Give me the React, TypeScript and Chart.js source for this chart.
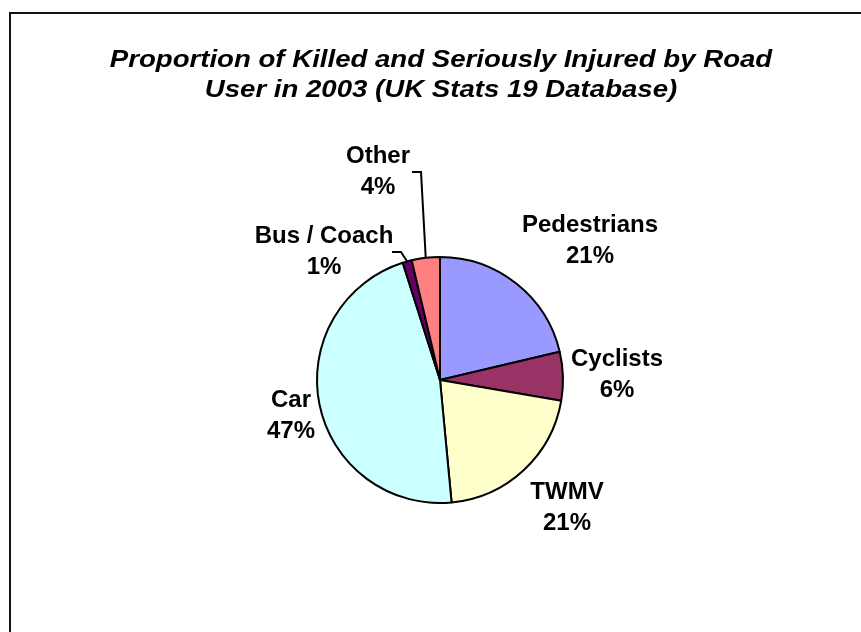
import React, { useEffect, useRef } from "react";
import { Chart, registerables } from "chart.js";

Chart.register(...registerables);

const categories = ["Pedestrians", "Cyclists", "TWMV", "Car", "Bus / Coach", "Other"];
const shares = [21.3, 6.4, 20.8, 46.6, 1.2, 3.7];
const sliceColors = ["#9999FF", "#993366", "#FFFFCC", "#CCFFFF", "#660066", "#FF8080"];
const titleLines = [
  "Proportion of Killed and Seriously Injured by Road",
  "User in 2003 (UK Stats 19 Database)",
];

// label anchors: [centre x, first baseline y] in canvas pixels
const labelAnchors: [number, number][] = [
  [590, 232],
  [617, 366],
  [567, 499],
  [291, 407],
  [324, 243],
  [378, 163],
];
// leader lines: start point (null = none)
const leaderStarts: ([number, number] | null)[] = [null, null, null, null, [392, 252], [412, 172]];

const FONT = '"Liberation Sans", Arial, Helvetica, sans-serif';

const decorPlugin = {
  id: "decor",
  beforeDraw(chart: any) {
    const ctx = chart.ctx;
    ctx.save();
    ctx.fillStyle = "#ffffff";
    ctx.fillRect(0, 0, chart.width, chart.height);
    ctx.strokeStyle = "#111111";
    ctx.lineWidth = 2;
    ctx.strokeRect(10, 13, 1000, 1000);
    ctx.fillStyle = "#000000";
    ctx.font = `italic bold 24px ${FONT}`;
    ctx.textAlign = "center";
    ctx.textBaseline = "alphabetic";
    const ys = [67, 97];
    titleLines.forEach((t, i) => {
      ctx.save();
      ctx.translate(441, ys[i]);
      ctx.scale(1.15, 1);
      ctx.fillText(t, 0, 0);
      ctx.restore();
    });
    ctx.restore();
  },
  afterDraw(chart: any) {
    const ctx = chart.ctx;
    const meta = chart.getDatasetMeta(0);
    const data = chart.data.datasets[0].data as number[];
    const total = data.reduce((a, b) => a + b, 0);
    ctx.save();
    meta.data.forEach((arc: any, i: number) => {
      const p = arc.getProps(["x", "y", "startAngle", "endAngle", "outerRadius"], true);
      const st = leaderStarts[i];
      if (st) {
        const mid = (p.startAngle + p.endAngle) / 2;
        const ex = p.x + Math.cos(mid) * p.outerRadius;
        const ey = p.y + Math.sin(mid) * p.outerRadius;
        ctx.strokeStyle = "#000";
        ctx.lineWidth = 2;
        ctx.beginPath();
        ctx.moveTo(st[0], st[1]);
        ctx.lineTo(st[0] + 9, st[1]);
        ctx.lineTo(ex, ey);
        ctx.stroke();
      }
      const [lx, ly] = labelAnchors[i];
      ctx.fillStyle = "#000";
      ctx.font = `bold 24px ${FONT}`;
      ctx.textAlign = "center";
      ctx.textBaseline = "alphabetic";
      ctx.fillText(String(chart.data.labels[i]), lx, ly);
      ctx.fillText(`${Math.round((data[i] / total) * 100)}%`, lx, ly + 31);
    });
    ctx.restore();
  },
};

export default function App() {
  const ref = useRef<HTMLCanvasElement>(null);
  useEffect(() => {
    if (!ref.current) return;
    const chart = new Chart(ref.current, {
      type: "pie",
      data: {
        labels: categories,
        datasets: [
          {
            data: shares,
            backgroundColor: sliceColors,
            borderColor: "#000000",
            borderWidth: 2,
            radius: 123,
          } as any,
        ],
      },
      options: {
        animation: false,
        responsive: false,
        layout: { padding: { left: 119, right: 100, top: 178, bottom: 50 } },
        plugins: {
          legend: { display: false },
          title: { display: false },
          tooltip: { enabled: false },
        },
      },
      plugins: [decorPlugin],
    });
    return () => chart.destroy();
  }, []);
  return (
    <div style={{ position: "absolute", left: 0, top: 0, width: 861, height: 632 }}>
      <canvas ref={ref} width={861} height={632} />
    </div>
  );
}
